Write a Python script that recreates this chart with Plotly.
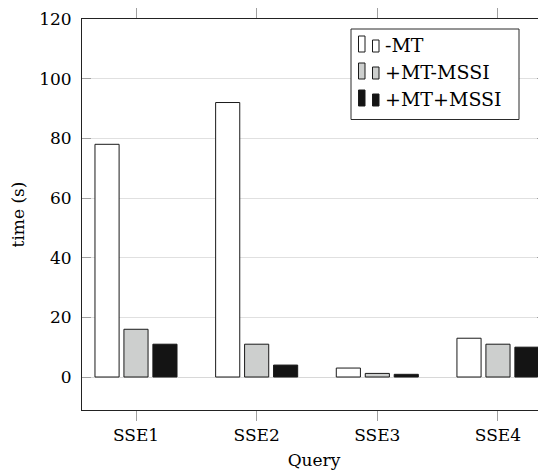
import plotly.graph_objects as go

categories = ["SSE1", "SSE2", "SSE3", "SSE4"]
series_names = ["-MT", "+MT-MSSI", "+MT+MSSI"]
mt_minus = [78, 92, 3, 13]
mt_minus_mssi = [16, 11, 1.2, 11]
mt_plus_mssi = [11, 4, 0.9, 10]
y_ticks = [0, 20, 40, 60, 80, 100, 120]

series_values = [mt_minus, mt_minus_mssi, mt_plus_mssi]
fills = ["#ffffff", "#cdcfce", "#141414"]
offsets = [-0.34, -0.1, 0.14]

# page layout (the page body has an 8px margin)
OFF = 8
PAGE_W, PAGE_H = 546, 470
PL, PT, PB = 82, 19, 410          # plot edges in page pixels
W, H = PAGE_W - OFF, PAGE_H - OFF
L, T = PL - OFF, PT - OFF
B = H - (PB - OFF)
R = 0
pw, ph = W - L - R, H - T - B

def px(x):
    return (x - PL) / pw

def py(y):
    return (PB - y) / ph

fig = go.Figure()
xs = list(range(len(categories)))
for name, vals, fc, off in zip(series_names, series_values, fills, offsets):
    fig.add_trace(go.Bar(
        x=xs, y=vals, name=name, width=0.2, offset=off,
        marker=dict(color=fc, line=dict(color="#1a1a1a", width=1)),
        showlegend=False,
    ))

font = dict(family="'DejaVu Serif', 'Liberation Serif', serif", size=17, color="#000")
legend_font = dict(font, size=19)

shapes = []
annotations = []
# custom legend box
shapes.append(dict(type="rect", xref="paper", yref="paper",
                   x0=px(351), x1=px(519), y0=py(119.5), y1=py(29),
                   line=dict(color="#2a2a2a", width=1), fillcolor="white", layer="above"))
row_bottoms = [52, 79, 106]
for name, fc, yb in zip(series_names, fills, row_bottoms):
    shapes.append(dict(type="rect", xref="paper", yref="paper",
                       x0=px(358.5), x1=px(365), y0=py(yb), y1=py(yb - 16),
                       line=dict(color="#1a1a1a", width=1), fillcolor=fc, layer="above"))
    shapes.append(dict(type="rect", xref="paper", yref="paper",
                       x0=px(372.5), x1=px(379), y0=py(yb), y1=py(yb - 12),
                       line=dict(color="#1a1a1a", width=1), fillcolor=fc, layer="above"))
    annotations.append(dict(xref="paper", yref="paper", x=px(383), y=py(yb - 7),
                            text=name, showarrow=False, xanchor="left", yanchor="middle",
                            font=legend_font))

fig.update_layout(
    width=W, height=H,
    margin=dict(l=L, r=R, t=T, b=B, pad=0, autoexpand=False),
    plot_bgcolor="white", paper_bgcolor="white",
    font=font,
    barmode="overlay",
    shapes=shapes,
    annotations=annotations,
)
fig.update_xaxes(
    range=[-0.4475, 3.398], automargin=False,
    tickvals=xs, ticktext=categories,
    ticks="outside", ticklen=10, tickcolor="#a0a0a0", tickwidth=1,
    mirror="ticks", showline=True, linecolor="#222", linewidth=1,
    showgrid=False, zeroline=False,
    title=dict(text="Query", font=font, standoff=12),
    tickfont=font,
)
fig.update_yaxes(
    range=[-11.06, 120], automargin=False,
    tickvals=y_ticks,
    ticks="inside", ticklen=9, tickcolor="#a0a0a0", tickwidth=1,
    mirror="ticks", showline=True, linecolor="#222", linewidth=1,
    showgrid=True, gridcolor="#e0e0e0", gridwidth=1,
    zeroline=True, zerolinecolor="#d8d8d8", zerolinewidth=1,
    title=dict(text="time (s)", font=font, standoff=11),
    tickfont=font, ticklabelstandoff=6,
)

fig.write_html("out.html")
